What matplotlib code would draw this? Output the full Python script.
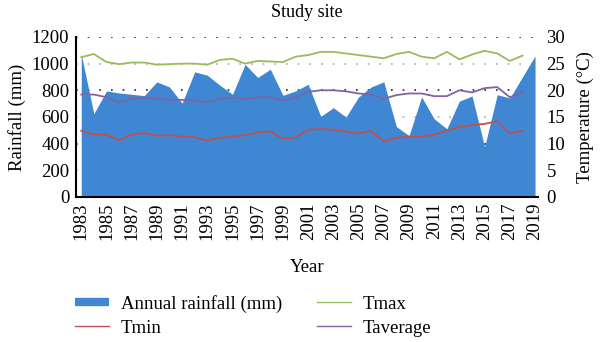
import matplotlib

matplotlib.use("Agg")
import matplotlib.pyplot as plt
import numpy as np
from matplotlib.lines import Line2D

plt.rcParams["font.family"] = ["Liberation Serif", "DejaVu Serif"]
plt.rcParams["font.size"] = 13.5

YEARS = np.arange(1983, 2020)
RAINFALL = [
    1070, 624, 795, 780, 770, 760, 863, 825, 704, 938,
    913, 838, 770, 994, 896, 958, 762, 795, 845, 604,
    670, 599, 750, 825, 863, 528, 460, 750, 586, 511,
    719, 757, 377, 767, 742, 900, 1057,
]
TEMP_YEARS = np.arange(1983, 2019)
TMAX = [
    26.2, 26.8, 25.3, 24.9, 25.2, 25.2, 24.8, 24.9, 25.0, 25.0,
    24.8, 25.7, 25.9, 25.0, 25.5, 25.4, 25.3, 26.3, 26.6, 27.2,
    27.2, 26.9, 26.6, 26.3, 26.0, 26.8, 27.2, 26.3, 26.0, 27.2,
    25.8, 26.7, 27.4, 26.9, 25.5, 26.5,
]
TAVG = [
    19.2, 19.2, 18.7, 17.8, 18.4, 18.7, 18.4, 18.2, 18.2, 18.1,
    17.8, 18.4, 18.7, 18.4, 18.7, 18.7, 18.1, 18.7, 19.7, 20.0,
    20.0, 19.8, 19.4, 19.2, 18.4, 19.1, 19.4, 19.4, 18.9, 18.9,
    20.0, 19.6, 20.4, 20.6, 18.7, 19.6,
]
TMIN = [
    12.4, 11.7, 11.7, 10.6, 11.7, 12.0, 11.5, 11.6, 11.3, 11.2,
    10.6, 11.1, 11.3, 11.6, 12.1, 12.3, 10.9, 11.2, 12.6, 12.7,
    12.6, 12.3, 11.9, 12.4, 10.4, 11.1, 11.3, 11.3, 11.7, 12.4,
    13.1, 13.5, 13.7, 14.2, 11.9, 12.4,
]
XTICKS = np.arange(1983, 2020, 2)

BLUE = "#3f87d3"
GREEN = "#9bbb59"
RED = "#c0504d"
PURPLE = "#8064a2"

fig = plt.figure(figsize=(6.0, 3.42), dpi=100)
ax = fig.add_axes([0.127, 0.424, 0.77, 0.468])

# dotted guide lines sit behind the rainfall area
for level, col in [(1200, "#222222"), (1000, "#aaaaaa"), (800, "#222222"),
                   (600, "#aaaaaa"), (400, "#222222"), (200, "#aaaaaa")]:
    ax.axhline(level, color=col, linestyle=(0, (1, 6)), linewidth=1.2, zorder=1)

ax.fill_between(YEARS, RAINFALL, 0, color=BLUE, linewidth=0, zorder=2)
ax.set_xlim(1982.6, 2019.25)
ax.set_ylim(0, 1200)
ax.set_yticks(np.arange(0, 1201, 200))
ax.set_xticks(XTICKS)
ax.set_xticklabels([str(y) for y in XTICKS], rotation=90)
ax.tick_params(length=0, pad=5)
ax.tick_params(axis="x", pad=4)
ax.set_ylabel("Rainfall (mm)", labelpad=4)
ax.set_xlabel("Year", labelpad=14)
for side in ["top", "right"]:
    ax.spines[side].set_visible(False)
ax.spines["left"].set_linewidth(1.5)
ax.spines["bottom"].set_linewidth(1.5)

ax2 = ax.twinx()
ax2.plot(TEMP_YEARS, TMAX, color=GREEN, linewidth=1.3)
ax2.plot(TEMP_YEARS, TMIN, color=RED, linewidth=1.3)
ax2.plot(TEMP_YEARS, TAVG, color=PURPLE, linewidth=1.3)
ax2.set_ylim(0, 30)
ax2.set_yticks(np.arange(0, 31, 5))
ax2.tick_params(length=0, pad=6)
ax2.set_ylabel("Temperature (°C)", labelpad=8)
for side in ["top", "right", "left", "bottom"]:
    ax2.spines[side].set_visible(False)

ax.set_title("Study site", fontsize=13, pad=14)

handles = [
    Line2D([], [], color=BLUE, linewidth=6, solid_capstyle="butt"),
    Line2D([], [], color=RED, linewidth=1.0),
    Line2D([], [], color=GREEN, linewidth=1.0),
    Line2D([], [], color=PURPLE, linewidth=1.0),
]
labels = ["Annual rainfall (mm)", "Tmin", "Tmax", "Taverage"]
fig.legend(handles, labels, loc="upper left", bbox_to_anchor=(0.125, 0.137),
           ncol=2, frameon=False, borderpad=0, borderaxespad=0,
           handlelength=1.8, handletextpad=0.65, columnspacing=1.85,
           labelspacing=0.35)

fig.savefig("out.png", dpi=100)
